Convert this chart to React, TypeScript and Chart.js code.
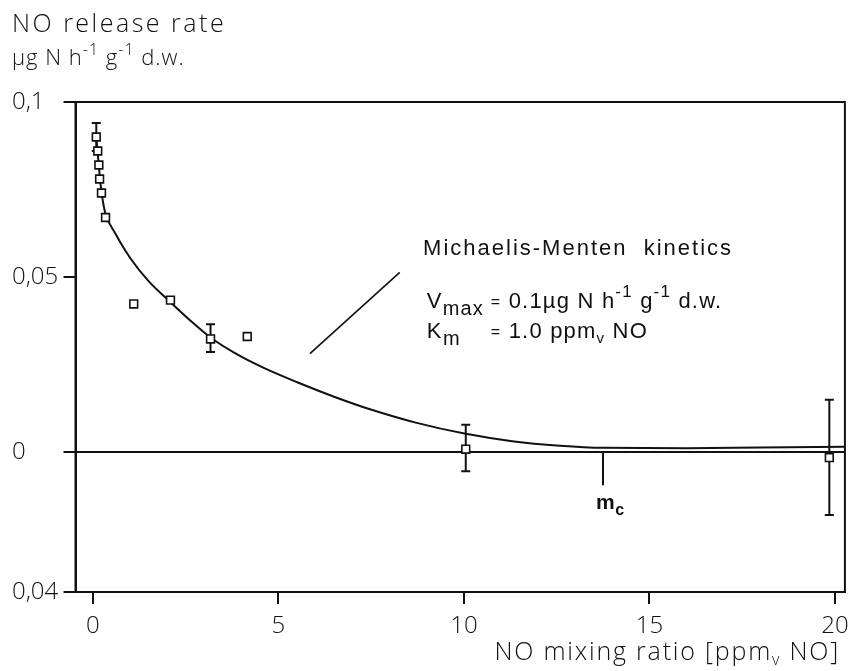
import React, { useEffect, useRef } from 'react';
import { Chart, registerables } from 'chart.js';

Chart.register(...registerables);

const W = 852;
const H = 671;

// ---- axis ranges and ticks ----
const X_MIN = -0.47;
const X_MAX = 20.27;
const Y_MIN = -0.04;
const Y_MAX = 0.1;
const X_TICKS = [0, 5, 10, 15, 20];
const X_TICK_LABELS = ['0', '5', '10', '15', '20'];
const Y_TICKS = [-0.04, 0, 0.05, 0.1];
const Y_TICK_LABELS = ['0,04', '0', '0,05', '0,1'];

// ---- measured points (open squares) ----
const pointX = [0.09, 0.13, 0.16, 0.18, 0.23, 0.34, 1.1, 2.09, 3.17, 4.16, 10.05, 19.85];
const pointY = [0.09, 0.086, 0.082, 0.078, 0.074, 0.067, 0.0423, 0.0434, 0.0323, 0.033, 0.0008, -0.0016];

// ---- error bars ----
const errX = [0.09, 3.17, 10.05, 19.85];
const errLow = [0.086, 0.0286, -0.0055, -0.018];
const errHigh = [0.094, 0.0365, 0.0078, 0.0149];

// ---- Michaelis-Menten fit curve ----
const curveX = [0.09, 0.14, 0.2, 0.27, 0.34, 0.6, 1.0, 1.5, 2.09, 2.6, 3.17, 3.9, 4.59, 5.49, 6.5, 7.47, 8.7, 10.05, 11.3, 12.59, 13.75, 16, 18, 20.27];
const curveY = [0.09, 0.084, 0.077, 0.0715, 0.068, 0.0625, 0.0555, 0.0488, 0.0428, 0.0378, 0.0327, 0.0278, 0.0241, 0.02, 0.0158, 0.0122, 0.0084, 0.0052, 0.0031, 0.0018, 0.0012, 0.0011, 0.0013, 0.0015];

// ---- other line marks ----
const zeroX = [X_MIN, X_MAX];
const zeroY = [0, 0];
const diagX = [5.85, 8.27];
const diagY = [0.0281, 0.0513];
const mcX = [13.75, 13.75];
const mcY = [0, -0.0095];

// ---- annotation anchors (data units) ----
const MM_TITLE_AT = [8.9, 0.0563];
const VMAX_AT = [9.0, 0.0411];
const KM_AT = [9.0, 0.0326];

const INK = '#111';
const AXIS_FONT = '"Open Sans", "DejaVu Sans", sans-serif';
const ANNOT_FONT = '"Liberation Sans", Arial, sans-serif';

type Seg = { t: string; size?: number; dy?: number; weight?: string };

function segWidth(ctx: CanvasRenderingContext2D, segs: Seg[], family: string, base: number, weight: string, spacing: number) {
  let w = 0;
  for (const s of segs) {
    ctx.font = `${s.weight ?? weight} ${s.size ?? base}px ${family}`;
    (ctx as any).letterSpacing = `${spacing}px`;
    w += ctx.measureText(s.t).width;
  }
  return w;
}

function drawRich(ctx: CanvasRenderingContext2D, x: number, y: number, segs: Seg[], family: string, base: number, weight: string, spacing: number, marks?: number[]) {
  let cx = x;
  segs.forEach((s, i) => {
    ctx.font = `${s.weight ?? weight} ${s.size ?? base}px ${family}`;
    (ctx as any).letterSpacing = `${spacing}px`;
    if (marks) marks[i] = cx;
    ctx.fillText(s.t, cx, y + (s.dy ?? 0));
    cx += ctx.measureText(s.t).width;
  });
  return cx;
}

const frameAndErrors = {
  id: 'frameAndErrors',
  beforeDatasetsDraw(chart: any) {
    const { ctx } = chart;
    const xs = chart.scales.x;
    const ys = chart.scales.y;
    ctx.save();
    ctx.strokeStyle = INK;
    ctx.lineWidth = 2;
    for (let i = 0; i < errX.length; i++) {
      const px = xs.getPixelForValue(errX[i]);
      const p1 = ys.getPixelForValue(errLow[i]);
      const p2 = ys.getPixelForValue(errHigh[i]);
      ctx.beginPath();
      ctx.moveTo(px, p1);
      ctx.lineTo(px, p2);
      ctx.moveTo(px - 4.5, p1);
      ctx.lineTo(px + 4.5, p1);
      ctx.moveTo(px - 4.5, p2);
      ctx.lineTo(px + 4.5, p2);
      ctx.stroke();
    }
    ctx.restore();
  },
  afterDatasetsDraw(chart: any) {
    const { ctx, chartArea: a } = chart;
    ctx.save();
    ctx.strokeStyle = INK;
    ctx.lineWidth = 2;
    ctx.strokeRect(a.left, a.top, a.right - a.left, a.bottom - a.top);
    ctx.restore();
  },
};

const textPlugin = {
  id: 'texts',
  afterDraw(chart: any) {
    const { ctx } = chart;
    const xs = chart.scales.x;
    const ys = chart.scales.y;
    ctx.save();
    ctx.fillStyle = INK;
    ctx.textAlign = 'left';
    ctx.textBaseline = 'alphabetic';

    // y-axis title (two lines)
    drawRich(ctx, 12, 32, [{ t: 'NO release rate' }], AXIS_FONT, 25, '300', 2.5);
    drawRich(ctx, 12, 65, [
      { t: 'µg N h' },
      { t: '-1', size: 16, dy: -10 },
      { t: ' g' },
      { t: '-1', size: 16, dy: -10 },
      { t: ' d.w.' },
    ], AXIS_FONT, 22, '300', 1);

    // x-axis title, right aligned
    const xt: Seg[] = [{ t: 'NO mixing ratio [ppm' }, { t: 'v', size: 16, dy: 5 }, { t: ' NO]' }];
    const xtw = segWidth(ctx, xt, AXIS_FONT, 25, '300', 1.8);
    drawRich(ctx, 840 - xtw, 660, xt, AXIS_FONT, 25, '300', 1.8);

    // Michaelis-Menten annotation
    drawRich(ctx, xs.getPixelForValue(MM_TITLE_AT[0]), ys.getPixelForValue(MM_TITLE_AT[1]),
      [{ t: 'Michaelis-Menten  kinetics' }], ANNOT_FONT, 22, 'normal', 2);

    const marks: number[] = [];
    drawRich(ctx, xs.getPixelForValue(VMAX_AT[0]), ys.getPixelForValue(VMAX_AT[1]), [
      { t: 'V' },
      { t: 'max', size: 20, dy: 7 },
      { t: ' ', size: 20 },
      { t: '=', size: 16, dy: -1 },
      { t: ' 0.1µg N h' },
      { t: '-1', size: 17, dy: -11 },
      { t: ' g' },
      { t: '-1', size: 17, dy: -11 },
      { t: ' d.w.' },
    ], ANNOT_FONT, 22, 'normal', 1.2, marks);
    const eqX = marks[3];

    const ky = ys.getPixelForValue(KM_AT[1]);
    drawRich(ctx, xs.getPixelForValue(KM_AT[0]), ky, [
      { t: 'K' },
      { t: 'm', size: 20, dy: 7 },
    ], ANNOT_FONT, 22, 'normal', 1.5);
    drawRich(ctx, eqX, ky, [
      { t: '=', size: 16, dy: -1 },
      { t: ' 1.0 ppm' },
      { t: 'v', size: 15, dy: 5 },
      { t: ' NO' },
    ], ANNOT_FONT, 22, 'normal', 1.2);

    // m_c label under its tick
    const mcPx = xs.getPixelForValue(mcX[0]);
    drawRich(ctx, mcPx - 7, ys.getPixelForValue(mcY[1]) + 24, [
      { t: 'm', weight: 'bold' },
      { t: 'c', size: 16, dy: 6, weight: 'bold' },
    ], ANNOT_FONT, 21, 'bold', 0.5);

    ctx.restore();
  },
};

const pairs = (xs: number[], ys: number[]) => xs.map((x, i) => ({ x, y: ys[i] }));

export default function App() {
  const ref = useRef<HTMLCanvasElement | null>(null);

  useEffect(() => {
    if (!ref.current) return;
    const lineDs = (data: any, width: number) => ({
      data,
      showLine: true,
      borderColor: INK,
      borderWidth: width,
      pointRadius: 0,
      fill: false,
    });
    const chart = new Chart(ref.current, {
      type: 'scatter',
      data: {
        datasets: [
          {
            label: 'measured',
            data: pairs(pointX, pointY),
            pointStyle: 'rect',
            pointRadius: 5.5,
            pointBackgroundColor: '#fff',
            pointBorderColor: INK,
            pointBorderWidth: 1.6,
            showLine: false,
          } as any,
          { label: 'fit', ...lineDs(pairs(curveX, curveY), 2), cubicInterpolationMode: 'monotone' } as any,
          { label: 'zero', ...lineDs(pairs(zeroX, zeroY), 2) } as any,
          { label: 'pointer', ...lineDs(pairs(diagX, diagY), 1.6) } as any,
          { label: 'mc', ...lineDs(pairs(mcX, mcY), 2) } as any,
        ],
      },
      options: {
        animation: false,
        responsive: false,
        devicePixelRatio: 1,
        layout: { padding: { left: 12, right: 7, top: 102, bottom: 0 } },
        plugins: { legend: { display: false }, tooltip: { enabled: false } },
        scales: {
          x: {
            type: 'linear',
            min: X_MIN,
            max: X_MAX,
            afterBuildTicks: (axis: any) => {
              axis.ticks = X_TICKS.map((v) => ({ value: v }));
            },
            afterFit: (s: any) => {
              s.height = 79;
              s.paddingLeft = 0;
              s.paddingRight = 0;
            },
            ticks: {
              color: INK,
              font: { family: AXIS_FONT, size: 24, weight: '300' as any },
              padding: 8,
              maxRotation: 0,
              autoSkip: false,
              callback: (v: any) => X_TICK_LABELS[X_TICKS.indexOf(Number(v))] ?? '',
            },
            grid: { drawOnChartArea: false, drawTicks: true, tickLength: 12, color: INK, lineWidth: 2 },
            border: { display: true, color: INK, width: 2 },
          },
          y: {
            type: 'linear',
            min: Y_MIN,
            max: Y_MAX,
            afterBuildTicks: (axis: any) => {
              axis.ticks = Y_TICKS.map((v) => ({ value: v }));
            },
            afterFit: (s: any) => {
              s.width = 63.5;
            },
            ticks: {
              color: INK,
              font: { family: AXIS_FONT, size: 24, weight: '300' as any },
              crossAlign: 'far',
              padding: 4,
              autoSkip: false,
              callback: (v: any) => Y_TICK_LABELS[Y_TICKS.indexOf(Number(v))] ?? '',
            },
            grid: { drawOnChartArea: false, drawTicks: true, tickLength: 12, color: INK, lineWidth: 2 },
            border: { display: true, color: INK, width: 2 },
          },
        },
      },
      plugins: [frameAndErrors, textPlugin],
    });
    return () => chart.destroy();
  }, []);

  return (
    <div style={{ position: 'fixed', left: 0, top: 0, width: W, height: H, background: '#fff' }}>
      <canvas ref={ref} width={W} height={H} style={{ display: 'block', width: W, height: H }} />
    </div>
  );
}
